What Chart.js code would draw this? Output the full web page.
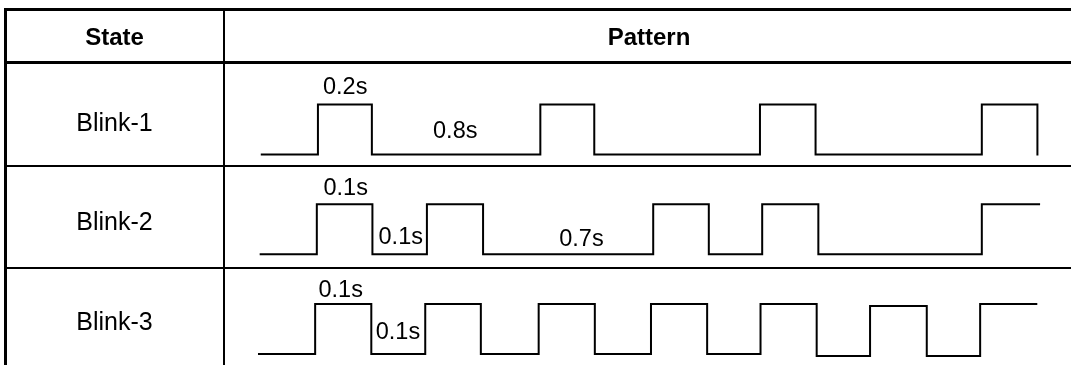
<!DOCTYPE html>
<html><head><meta charset="utf-8">
<script src="https://cdn.jsdelivr.net/npm/chart.js@4/dist/chart.umd.min.js"></script>
<style>
html,body{margin:0;padding:0;background:#fff;}
#wrap{position:relative;width:1071px;height:365px;overflow:hidden;font-family:"Liberation Sans",Arial,sans-serif;color:#000;}
.ln{position:absolute;background:#000;}
.txt{position:absolute;transform:translate(-50%,-50%);white-space:nowrap;line-height:1;}
.hdr{font-weight:bold;font-size:24px;}
.row{font-size:25px;}
.tm{font-size:23.5px;}
canvas{position:absolute;left:0;top:0;}
</style></head><body>
<div id="wrap">
  <canvas id="c" width="1071" height="365"></canvas>
  <div class="ln" style="left:4px;right:0;top:8px;height:3px"></div>
  <div class="ln" style="left:4px;width:3px;top:8px;bottom:0"></div>
  <div class="ln" style="left:4px;right:0;top:61px;height:3px"></div>
  <div class="ln" style="left:4px;right:0;top:165px;height:2px"></div>
  <div class="ln" style="left:4px;right:0;top:267px;height:2px"></div>
  <div class="ln" style="left:223px;width:2px;top:10px;bottom:0"></div>
</div>
<script>
// ---- data ----
const headers = ['State', 'Pattern'];
const rowNames = ['Blink-1', 'Blink-2', 'Blink-3'];
// signal edge times (drawing time units, ~0.1 s slot each) and level after each edge
const blink1Times  = [0.05, 1.06, 2.03, 5.06, 6.03, 9.01, 10.01, 13.0, 14.0];
const blink1Levels = [0, 1, 0, 1, 0, 1, 0, 1, 0];
const blink2Times  = [0.03, 1.04, 2.04, 3.02, 4.03, 7.09, 8.09, 9.05, 10.06, 13.0, 14.03];
const blink2Levels = [0, 1, 0, 1, 0, 1, 0, 1, 0, 1, 1];
const blink3Times  = [0, 1.01, 2.02, 2.99, 3.99, 5.03, 6.04, 7.05, 8.06, 9.02, 10.03, 10.99, 12.01, 12.97, 13.98];
const blink3Levels = [0, 1, 0, 1, 0, 1, 0, 1, 0, 1, -0.04, 0.96, -0.04, 1, 1];
const rowOffsets = [4, 2, 0];
// timing annotations
const labelTexts  = ['0.2s', '0.8s', '0.1s', '0.1s', '0.7s', '0.1s', '0.1s'];
const labelTimes  = [1.55, 3.53, 1.56, 2.55, 5.8, 1.47, 2.5];
const labelRows   = [0, 0, 1, 1, 1, 2, 2];
const labelLevels = [1.35, 0.47, 1.32, 0.345, 0.30, 1.29, 0.435];

// ---- text ----
const wrap = document.getElementById('wrap');
function addText(txt, cls, left, top, id) {
  const d = document.createElement('div');
  d.className = 'txt ' + cls;
  d.textContent = txt;
  d.style.left = left + 'px';
  d.style.top = top + 'px';
  if (id) d.id = id;
  wrap.appendChild(d);
  return d;
}
addText(headers[0], 'hdr', 114.5, 37, null);
addText(headers[1], 'hdr', 649, 37, null);
const rowCenters = [122, 221, 321];
rowNames.forEach((n, i) => addText(n, 'row', 114.5, rowCenters[i], null));
labelTexts.forEach((t, i) => addText(t, 'tm', 0, 0, 'lbl' + i));

// ---- chart ----
function buildPoints(times, levels, offset) {
  const pts = [];
  for (let i = 0; i < times.length; i++) {
    if (i > 0) pts.push({x: times[i], y: levels[i - 1] + offset});
    pts.push({x: times[i], y: levels[i] + offset});
  }
  return pts;
}
const series = [[blink1Times, blink1Levels], [blink2Times, blink2Levels], [blink3Times, blink3Levels]];
const datasets = series.map((s, i) => ({
  label: rowNames[i],
  data: buildPoints(s[0], s[1], rowOffsets[i]),
  borderColor: '#000',
  borderWidth: 2,
  pointRadius: 0,
  fill: false,
  tension: 0,
  borderJoinStyle: 'miter',
  borderCapStyle: 'square'
}));
const labelPlugin = {
  id: 'timeLabels',
  afterRender(chart) {
    const xs = chart.scales.x, ys = chart.scales.y;
    labelTexts.forEach((t, i) => {
      const el = document.getElementById('lbl' + i);
      el.style.left = xs.getPixelForValue(labelTimes[i]) + 'px';
      el.style.top = ys.getPixelForValue(rowOffsets[labelRows[i]] + labelLevels[i]) + 'px';
    });
  }
};
new Chart(document.getElementById('c'), {
  type: 'line',
  data: {datasets},
  options: {
    responsive: false,
    devicePixelRatio: 1,
    animation: false,
    layout: {padding: 0},
    plugins: {legend: {display: false}, tooltip: {enabled: false}},
    scales: {
      x: {type: 'linear', min: -4.658, max: 14.604, display: false},
      y: {type: 'linear', min: -0.2204, max: 7.094, display: false}
    },
    elements: {line: {clip: false}}
  },
  plugins: [labelPlugin]
});
</script>
</body></html>
